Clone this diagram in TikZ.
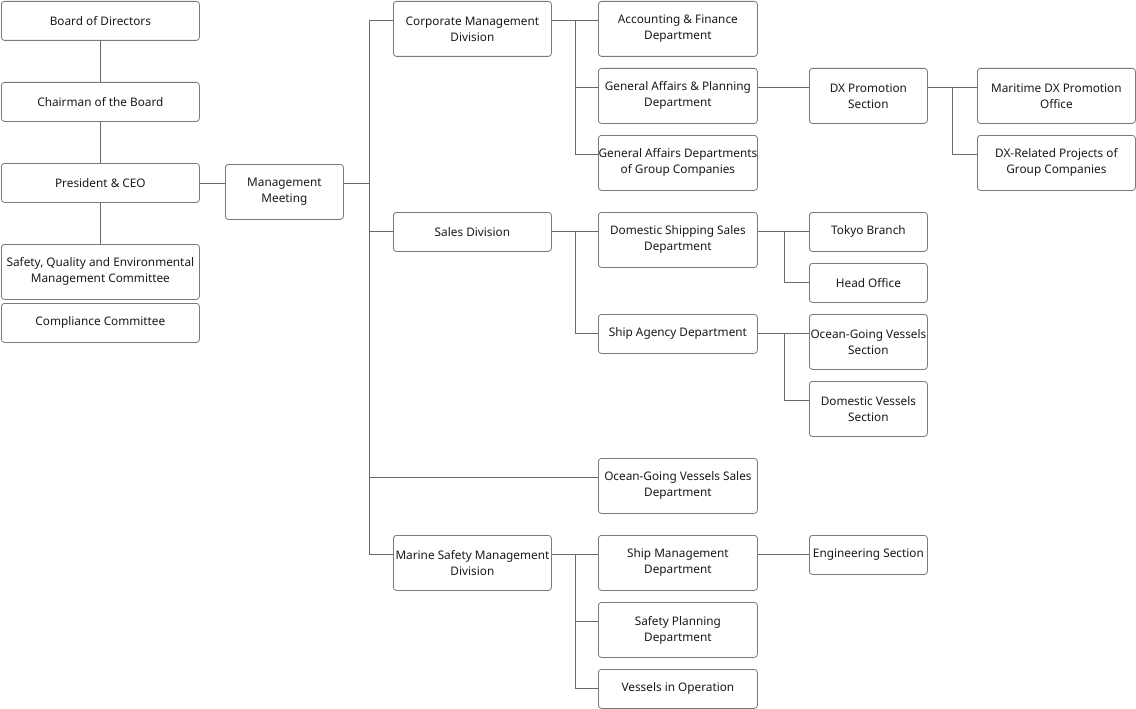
\documentclass[tikz,border=0pt]{standalone}
\usepackage{fontspec}
\setmainfont{Noto Sans}
\usetikzlibrary{positioning}

\definecolor{edgegray}{HTML}{7A7A7A}
\definecolor{linegray}{HTML}{6A6A6A}
\definecolor{textgray}{HTML}{1A1A1A}

\begin{document}
\begin{tikzpicture}[x=1pt, y=-1pt,
  box/.style={draw=edgegray, line width=0.8pt, rounded corners=3pt, fill=white,
    anchor=north west, align=center, inner xsep=0pt, inner ysep=0pt,
    text=textgray, font=\fontsize{11.8}{16}\selectfont},
  wide/.style={box, minimum width=198pt},
  mid/.style={box, minimum width=158pt},
  narrow/.style={box, minimum width=118pt},
  low/.style={minimum height=39pt},
  high/.style={minimum height=55pt},
  tie/.style={draw=linegray, line width=0.8pt}]
\useasboundingbox (0,0) rectangle (1136,709);

% left column
\node[wide, low] (board) at (1,1) {Board of Directors};
\node[wide, low] (chair) at (1,82) {Chairman of the Board};
\node[wide, low] (pres) at (1,163) {President \& CEO};
\node[wide, high] (saf) at (1,244) {Safety, Quality and Environmental\\Management Committee};
\node[wide, low] (comp) at (1,303) {Compliance Committee};
\node[narrow, high] (mm) at (225,164) {Management\\Meeting};

% divisions
\node[mid, high] (corp) at (393,1) {Corporate Management\\Division};
\node[mid, low] (sales) at (393,212) {Sales Division};
\node[mid, high] (mar) at (393,535) {Marine Safety Management\\Division};

% departments
\node[mid, high, minimum width=159pt] (acc) at (598,1) {Accounting \& Finance\\Department};
\node[mid, high, minimum width=159pt] (gap) at (598,68) {General Affairs \& Planning\\Department};
\node[mid, high, minimum width=159pt] (gagc) at (598,135) {General Affairs Departments\\of Group Companies};
\node[mid, high, minimum width=159pt] (dss) at (598,212) {Domestic Shipping Sales\\Department};
\node[mid, low, minimum width=159pt] (agency) at (598,314) {Ship Agency Department};
\node[mid, high, minimum width=159pt] (ogvs) at (598,458) {Ocean-Going Vessels Sales\\Department};
\node[mid, high, minimum width=159pt] (shipm) at (598,535) {Ship Management\\Department};
\node[mid, high, minimum width=159pt] (safp) at (598,602) {Safety Planning\\Department};
\node[mid, low, minimum width=159pt] (vio) at (598,669) {Vessels in Operation};

% sections
\node[narrow, high] (dx) at (809,68) {DX Promotion\\Section};
\node[narrow, low] (tokyo) at (809,212) {Tokyo Branch};
\node[narrow, low] (head) at (809,263) {Head Office};
\node[narrow, high] (ogsec) at (809,314) {Ocean-Going Vessels\\Section};
\node[narrow, high] (domsec) at (809,381) {Domestic Vessels\\Section};
\node[narrow, low] (eng) at (809,535) {Engineering Section};

% offices
\node[mid, high] (mdx) at (977,68) {Maritime DX Promotion\\Office};
\node[mid, high] (dxr) at (977,135) {DX-Related Projects of\\Group Companies};

% tie points 20pt below the top edge
\foreach \n in {corp,sales,mar,acc,gap,gagc,dss,agency,ogvs,shipm,safp,vio,
                dx,tokyo,head,ogsec,domsec,eng,mdx,dxr}
  {\coordinate (\n-w) at ([yshift=-19.5pt]\n.north west);
   \coordinate (\n-e) at ([yshift=-19.5pt]\n.north east);}

\coordinate (b1) at (369,0);
\coordinate (b2) at (575,0);
\coordinate (b3) at (784,0);
\coordinate (b4) at (952,0);

% top management
\draw[tie] (board) -- (chair);
\draw[tie] (chair) -- (pres);
\draw[tie] (pres) -- (saf);
\draw[tie] (pres.east) -- (pres.east -| mm.west);
\draw[tie] (pres.east -| mm.east) -- (pres.east -| b1);

% divisions
\draw[tie] (b1 |- corp-w) -- (b1 |- mar-w);
\foreach \n in {corp,sales,ogvs,mar}
  \draw[tie] (b1 |- \n-w) -- (\n-w);

% departments
\draw[tie] (corp-e) -- (b2 |- corp-e) -- (b2 |- gagc-w);
\foreach \n in {acc,gap,gagc}
  \draw[tie] (b2 |- \n-w) -- (\n-w);
\draw[tie] (sales-e) -- (b2 |- sales-e) -- (b2 |- agency-w);
\foreach \n in {dss,agency}
  \draw[tie] (b2 |- \n-w) -- (\n-w);
\draw[tie] (mar-e) -- (b2 |- mar-e) -- (b2 |- vio-w);
\foreach \n in {shipm,safp,vio}
  \draw[tie] (b2 |- \n-w) -- (\n-w);

% sections
\draw[tie] (gap-e) -- (dx-w);
\draw[tie] (dss-e) -- (b3 |- dss-e) -- (b3 |- head-w) -- (head-w);
\draw[tie] (b3 |- tokyo-w) -- (tokyo-w);
\draw[tie] (agency-e) -- (b3 |- agency-e) -- (b3 |- domsec-w) -- (domsec-w);
\draw[tie] (b3 |- ogsec-w) -- (ogsec-w);
\draw[tie] (shipm-e) -- (eng-w);

% offices
\draw[tie] (dx-e) -- (b4 |- dx-e) -- (b4 |- dxr-w) -- (dxr-w);
\draw[tie] (b4 |- mdx-w) -- (mdx-w);
\end{tikzpicture}
\end{document}
